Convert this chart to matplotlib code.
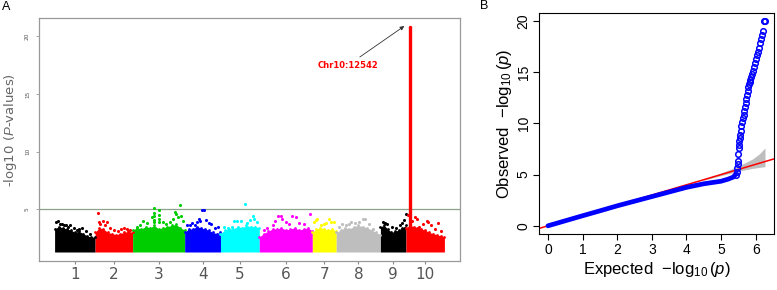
import numpy as np
import matplotlib
matplotlib.use("Agg")
import matplotlib.pyplot as plt

plt.rcParams['mathtext.fontset'] = 'custom'
plt.rcParams['mathtext.rm'] = 'Liberation Sans'
plt.rcParams['mathtext.it'] = 'Liberation Sans:italic'

# ---------------- Panel A data (Manhattan) ----------------
chrom_names = ["1", "2", "3", "4", "5", "6", "7", "8", "9", "10"]
chrom_len = [40.7, 37.7, 52.3, 36.0, 39.0, 53.3, 24.0, 44.4, 25.6, 38.7]
chrom_colors = ["#000000", "#FF0000", "#00CD00", "#0000FF", "#00FFFF",
                "#FF00FF", "#FFFF00", "#BEBEBE", "#000000", "#FF0000"]
base_logp = 1.3
# upper edge of the dense bulk of SNPs per chromosome (evenly spaced along chromosome)
env1 = [3.3, 3.5, 3.4, 3.3, 3.2, 3.0, 3.1, 2.9, 2.7, 2.6, 2.6]
env2 = [3.0, 3.4, 3.3, 3.0, 2.9, 2.8, 2.9, 3.0, 3.1, 3.0]
env3 = [3.2, 3.4, 3.3, 3.5, 3.4, 3.6, 3.3, 3.4, 3.5, 3.6, 3.7, 3.4, 3.2]
env4 = [3.0, 3.3, 3.3, 3.5, 3.4, 3.3, 3.2, 3.0, 2.9, 3.0]
env5 = [2.9, 3.2, 3.3, 3.3, 3.5, 3.4, 3.6, 3.5, 3.5, 3.4]
env6 = [2.6, 2.9, 3.1, 3.3, 3.3, 3.4, 3.2, 3.3, 3.4, 3.2, 3.3, 3.4, 3.1]
env7 = [3.0, 3.3, 3.4, 3.3, 3.2, 3.3, 3.1]
env8 = [3.0, 3.2, 3.4, 3.3, 3.5, 3.6, 3.5, 3.4, 3.2, 3.0, 2.8]
env9 = [3.5, 3.6, 3.3, 3.0, 3.1, 3.2, 3.4, 3.6]
env10 = [3.4, 3.6, 3.5, 3.4, 3.3, 3.2, 3.0, 2.9, 2.8, 2.7, 2.6]
envelopes = [env1, env2, env3, env4, env5, env6, env7, env8, env9, env10]

# individual stand-out SNPs: (position within chromosome, -log10 p)
snp1_pos = [1.2, 3.7, 5.7, 7.7, 9.7, 11.7, 13.7, 15.7, 19.7, 22.7, 24.7, 27.7, 31.7, 35.7]
snp1_val = [3.9, 4.0, 3.7, 3.75, 3.6, 3.65, 3.5, 3.6, 3.4, 3.2, 3.3, 3.35, 3.1, 2.9]
snp2_pos = [2.7, 3.5, 5.0, 8.0, 10.0, 12.0, 15.0, 19.0, 23.0, 26.0, 29.0, 32.0, 35.0]
snp2_val = [4.7, 3.9, 3.7, 3.95, 3.6, 3.9, 3.4, 3.2, 3.1, 3.3, 3.4, 3.3, 3.2]
snp3_pos = [4.0, 7.3, 10.6, 14.3, 19.0, 21.3, 21.3, 21.3, 21.3, 21.3, 26.6, 26.6, 26.6, 26.6,
            30.3, 33.3, 37.3, 40.3, 42.3, 43.8, 45.3, 47.3, 49.0, 50.3]
snp3_val = [3.5, 3.6, 4.0, 3.8, 4.36, 5.08, 4.7, 4.4, 4.1, 3.9, 4.94, 4.5, 4.2, 3.9,
            3.9, 3.7, 3.9, 4.2, 4.79, 4.6, 4.3, 5.4, 4.4, 4.0]
snp4_pos = [2.0, 5.0, 7.0, 10.0, 12.0, 14.0, 15.5, 17.5, 19.0, 21.7, 24.0, 26.7, 30.0, 33.0]
snp4_val = [3.6, 3.6, 3.8, 3.6, 3.9, 4.2, 4.0, 4.97, 4.9, 4.1, 3.8, 3.7, 3.4, 3.5]
snp5_pos = [4.0, 8.0, 12.0, 14.0, 17.0, 21.0, 24.7, 27.0, 30.0, 32.3, 34.0, 37.0]
snp5_val = [3.5, 3.4, 3.5, 3.95, 4.0, 4.0, 5.46, 3.8, 4.1, 4.4, 4.2, 3.9]
snp6_pos = [5.0, 8.0, 13.3, 16.0, 18.3, 21.7, 23.3, 27.0, 30.0, 33.3, 36.7, 40.0, 45.0, 51.0]
snp6_val = [3.2, 3.4, 3.6, 4.0, 4.42, 4.4, 4.2, 3.9, 3.75, 4.42, 4.3, 3.8, 3.7, 4.6]
snp7_pos = [1.7, 4.0, 5.0, 8.7, 11.7, 14.0, 16.7, 18.7, 21.7]
snp7_val = [3.9, 4.1, 4.2, 3.6, 3.7, 3.8, 4.2, 3.9, 3.9]
snp8_pos = [2.7, 5.7, 9.7, 12.7, 14.4, 18.7, 22.7, 26.7, 29.2, 32.7, 36.7]
snp8_val = [3.5, 3.7, 3.6, 3.7, 3.9, 3.8, 3.9, 4.2, 4.15, 3.7, 3.3]
snp9_pos = [2.3, 4.3, 6.3, 11.3, 15.3, 19.3, 21.3, 23.3, 25.3]
snp9_val = [3.93, 3.85, 3.7, 3.5, 3.4, 3.6, 3.8, 4.07, 4.6]
snp10_pos = [1.7, 5.7, 9.4, 11.0, 12.7, 16.7, 21.0, 22.7, 25.7, 29.7, 32.7, 35.7]
snp10_val = [4.5, 4.0, 4.36, 4.2, 3.5, 3.7, 4.0, 3.9, 3.6, 3.3, 3.8, 3.1]
snp_pos = [snp1_pos, snp2_pos, snp3_pos, snp4_pos, snp5_pos, snp6_pos, snp7_pos, snp8_pos, snp9_pos, snp10_pos]
snp_val = [snp1_val, snp2_val, snp3_val, snp4_val, snp5_val, snp6_val, snp7_val, snp8_val, snp9_val, snp10_val]

# the peak on chromosome 10
peak_chrom = 10
peak_pos = 3.7
peak_low = 3.5
peak_high = 20.8
peak_label = "Chr10:12542"
threshold = 5

# ---------------- Panel B data (QQ plot) ----------------
qq_bulk_exp = [0.0, 0.5, 1.0, 1.5, 2.0, 2.5, 3.0, 3.5, 4.0, 4.5, 4.8, 5.0, 5.2, 5.35, 5.42]
qq_bulk_obs = [0.0, 0.49, 0.98, 1.46, 1.95, 2.4, 2.85, 3.3, 3.75, 4.1, 4.25, 4.35, 4.55, 4.75, 5.0]
qq_top_exp = [5.42, 5.45, 5.47, 5.48, 5.49, 5.50, 5.51, 5.52, 5.53, 5.54, 5.55, 5.57, 5.59, 5.61,
              5.63, 5.65, 5.67, 5.69, 5.71, 5.73, 5.75, 5.77, 5.79, 5.81, 5.83, 5.85, 5.87, 5.89,
              5.91, 5.94, 5.97, 6.00, 6.03, 6.06, 6.09, 6.12, 6.15, 6.18, 6.21, 6.24, 6.27]
qq_top_obs = [5.0, 5.3, 5.6, 6.0, 6.3, 7.0, 7.6, 7.9, 8.3, 8.6, 8.9, 9.3, 9.7, 10.1,
              10.5, 10.8, 11.2, 11.6, 12.0, 12.4, 12.8, 13.2, 13.5, 13.8, 14.0, 14.2, 14.5, 14.8,
              15.1, 15.5, 15.9, 16.3, 16.7, 17.0, 17.4, 17.8, 18.2, 18.6, 19.0, 20.0, 20.0]
ci_exp = [4.5, 5.0, 5.3, 5.6, 5.9, 6.1, 6.27]
ci_upper = [4.6, 5.15, 5.55, 6.0, 6.5, 7.0, 7.6]
ci_lower = [4.45, 4.9, 5.15, 5.4, 5.6, 5.7, 5.77]

# ---------------- Figure ----------------
fig = plt.figure(figsize=(7.77, 2.9), dpi=100)
axA = fig.add_axes([39 / 777, 29 / 290, 421 / 777, 243 / 290])
axB = fig.add_axes([539.3 / 777, 56 / 290, 234.7 / 777, 221.3 / 290])

# Panel A
starts = np.concatenate([[0], np.cumsum(chrom_len)[:-1]])
total = float(np.sum(chrom_len))
for i in range(len(chrom_names)):
    env = np.array(envelopes[i])
    xs = starts[i] + np.linspace(0, chrom_len[i], len(env))
    axA.fill_between(xs, base_logp, env, color=chrom_colors[i], lw=0, zorder=2)
    axA.scatter(xs, env, s=4, color=chrom_colors[i], lw=0, zorder=3)
    axA.scatter(starts[i] + np.array(snp_pos[i]), snp_val[i], s=5,
                color=chrom_colors[i], lw=0, zorder=3)

px = starts[peak_chrom - 1] + peak_pos
axA.vlines(px, peak_low, peak_high, color=chrom_colors[peak_chrom - 1], lw=2.4, zorder=4)
axA.scatter([px], [peak_high], s=6, color=chrom_colors[peak_chrom - 1], lw=0, zorder=4)
axA.axhline(threshold, color="#8aa38a", lw=0.9, zorder=1)

axA.annotate("", xy=(px - 5.3, peak_high + 0.08), xytext=(px - 50, 18.2),
             arrowprops=dict(arrowstyle="-|>", color="#333333", lw=0.6,
                             mutation_scale=6, shrinkA=0, shrinkB=0))
axA.text(px - 62, 17.5, peak_label, color="#FF0000", fontsize=6.0,
         fontweight="bold", ha="center", va="center", family="DejaVu Sans")

axA.set_xlim(-0.04 * total, 1.04 * total)
axA.set_ylim(0.52, 21.58)
mids = starts + np.array(chrom_len) / 2
axA.set_xticks(mids)
axA.set_xticklabels(chrom_names, fontsize=11, color="#555555")
axA.tick_params(axis="x", length=2.5, width=0.8, color="#888888", pad=1.5)
axA.set_yticks([5, 10, 15, 20])
axA.set_yticklabels(["5", "10", "15", "20"], rotation=90, fontsize=4.2,
                    color="#555555", va="center")
axA.tick_params(axis="y", length=2.5, width=0.6, color="#999999", pad=4)
for s in axA.spines.values():
    s.set_color("#999999")
    s.set_linewidth(0.9)
fig.text(11 / 777, 1 - 130 / 290, r"-log10 ($\it{P}$-values)", fontsize=9.5,
         color="#666666", rotation=90, ha="center", va="center")

# Panel B
axB.fill_between(ci_exp, ci_lower, ci_upper, color="#BEBEBE", lw=0, zorder=1)
axB.axline((0, 0), slope=1, color="#FF0000", lw=1.1, zorder=2)
axB.plot(qq_bulk_exp, qq_bulk_obs, color="#0000FF", lw=3.4, solid_capstyle="round", zorder=3)
axB.plot(qq_top_exp, qq_top_obs, ls="none", marker="o", ms=4.0, mfc="none",
         mec="#0000FF", mew=1.1, zorder=4)
axB.set_xlim(-0.25, 6.53)
axB.set_ylim(-0.8, 20.8)
axB.set_xticks(range(0, 7))
axB.set_yticks([0, 5, 10, 15, 20])
axB.tick_params(axis="both", length=4.3, width=0.8, labelsize=10, pad=2)
for lab in axB.get_xticklabels() + axB.get_yticklabels():
    lab.set_family("Liberation Sans")
for lab in axB.get_yticklabels():
    lab.set_rotation(90)
    lab.set_va("center")
for s in axB.spines.values():
    s.set_linewidth(0.8)
axB.set_xlabel(r"Expected  $-\log_{10}(p)$", fontsize=12, family="Liberation Sans", labelpad=2)
axB.set_ylabel(r"Observed  $-\log_{10}(p)$", fontsize=12, family="Liberation Sans", labelpad=2)

fig.text(6.5 / 777, 1 - 7 / 290, "A", fontsize=9, ha="center", va="center", family="Liberation Sans")
fig.text(484 / 777, 1 - 6 / 290, "B", fontsize=9, ha="center", va="center", family="Liberation Sans")

fig.savefig("out.png", dpi=100)
